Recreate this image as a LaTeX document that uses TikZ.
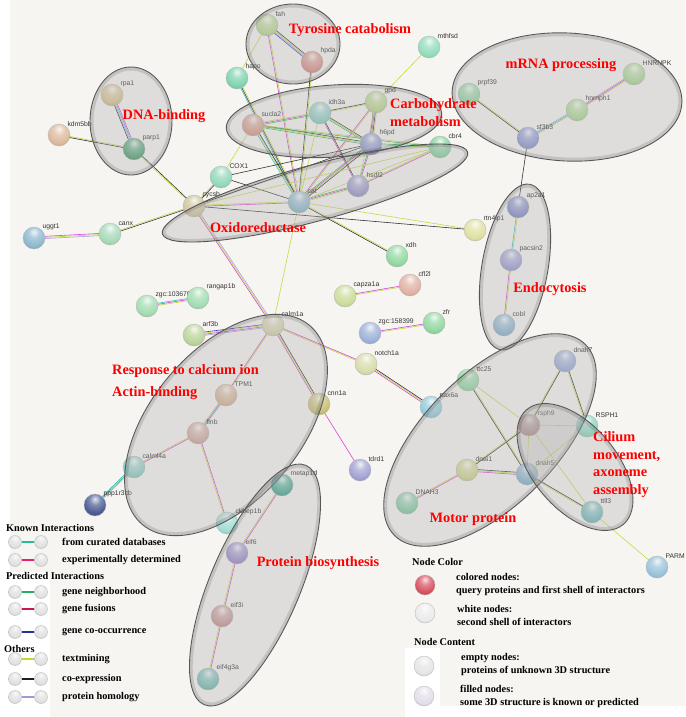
\documentclass[tikz,border=0pt]{standalone}
\usepackage{fontspec}
\setmainfont{Liberation Serif}
\newfontfamily\genefont{Liberation Sans}
\usetikzlibrary{calc}
\pgfdeclarelayer{bg}
\pgfdeclarelayer{links}
\pgfsetlayers{bg,links,main}

% lighter, glossier balls
\makeatletter
\pgfdeclareradialshading[tikz@ball]{ball}{\pgfqpoint{0bp}{14bp}}{%
  color(0bp)=(tikz@ball!15!white);
  color(12bp)=(tikz@ball!70!white);
  color(28bp)=(tikz@ball);
  color(44bp)=(tikz@ball!80!black);
  color(58bp)=(tikz@ball!55!black);
  color(100bp)=(tikz@ball!55!black)}
\makeatother

% interaction colours
\definecolor{paper}{HTML}{F6F5F1}
\definecolor{txtm}{HTML}{C4DA48}
\definecolor{coex}{HTML}{333333}
\definecolor{expt}{HTML}{DC44D4}
\definecolor{cura}{HTML}{34C2C8}
\definecolor{nbhd}{HTML}{30BE62}
\definecolor{cooc}{HTML}{3442B8}
\definecolor{homo}{HTML}{A8A2E0}
\definecolor{fusn}{HTML}{D82050}

\tikzset{
  protein/.style={circle, minimum size=22pt, inner sep=0pt, draw=black!30, line width=0.3pt},
  gene/.style={font=\genefont\fontsize{6.8}{7}\selectfont, text=black!80, inner sep=0.5pt},
  edge/.style={line width=0.6pt},
  cluster/.style={draw=black!65, line width=0.9pt, fill=black!30, fill opacity=0.35},
  rim/.style={draw=black, draw opacity=0.12, line width=3pt},
  term/.style={font=\bfseries\fontsize{14.3}{17.5}\selectfont, text=red, inner sep=0pt},
  legtxt/.style={font=\bfseries\fontsize{10.3}{13}\selectfont, inner sep=0pt, anchor=west, align=left},
  lball/.style={circle, minimum size=13pt, inner sep=0pt, ball color=white!88!black, draw=black!30, line width=0.3pt},
  kball/.style={circle, minimum size=20pt, inner sep=0pt, draw=black!30, line width=0.3pt}
}

% protein: name, position, label, colour
\newcommand{\prot}[4]{%
  \definecolor{c#1}{HTML}{#4}%
  \node[protein, ball color=c#1, label={[gene]45:{#3}}] (#1) at (#2) {};}
% interaction: from, to, list of evidence colours
\newcommand{\intx}[3]{%
  \foreach \c [count=\n] in {#3} {\xdef\nlines{\n}}
  \foreach \c [count=\k] in {#3} {
    \pgfmathsetmacro\off{(\k-(\nlines+1)/2)*1.1}
    \draw[\c, edge] ($(#1)!\off pt!90:(#2)$) -- ($(#2)!\off pt!-90:(#1)$);
  }}
% cluster: centre, x radius, y radius, angle
\newcommand{\clus}[4]{%
  \draw[cluster, rotate around={#4:(#1)}] (#1) ellipse [x radius=#2pt, y radius=#3pt];
  \draw[rim, rotate around={#4:(#1)}] (#1) ellipse [x radius=#2pt-2pt, y radius=#3pt-2pt];}

\begin{document}
\begin{tikzpicture}[x=1pt, y=-1pt]
  \useasboundingbox (0,0) rectangle (685,717);
  \begin{pgfonlayer}{bg}
    \fill[paper] (0,0) rectangle (685,717);
    \fill[white] (0,0) rectangle (10,717);
    \fill[white] (0,572) rectangle (50,717);
    \fill[white] (405,706) rectangle (685,717);
    \fill[white] (405,648) rectangle (440,717);
  \end{pgfonlayer}

  % Proteins
  \prot{fah}{267,25}{fah}{B8D68E}
  \prot{hpda}{312,62}{hpda}{D88C82}
  \prot{hapo}{237,78}{hapo}{7ED4AE}
  \prot{mthfsd}{429,47}{mthfsd}{92DCBC}
  \prot{gpd}{376,102}{gpd}{BAD48C}
  \prot{idh3a}{320,113}{idh3a}{8ECCC4}
  \prot{sucla2}{253,125}{sucla2}{D69A88}
  \prot{h6pd}{371,144}{h6pd}{8C94CC}
  \prot{cbr4}{440,147}{cbr4}{86D29E}
  \prot{hsdl2}{358,186}{hsdl2}{9894C8}
  \prot{cat}{299,202}{cat}{8CB6CA}
  \prot{COX1}{221,177}{COX1}{92D8BA}
  \prot{cycsb}{194,206}{cycsb}{CFC49C}
  \prot{rpa1}{112,95}{rpa1}{D6C08E}
  \prot{kdm5bb}{59,135}{kdm5bb}{DCBA9C}
  \prot{parp1}{134,149}{parp1}{4C9E72}
  \prot{uggt1}{34,238}{uggt1}{8CB8CE}
  \prot{canx}{110,234}{canx}{A6DAB8}
  \prot{zgcA}{147,306}{zgc:103670}{A2DCB2}
  \prot{rangap1b}{198,298}{rangap1b}{A2DCB2}
  \prot{arf3b}{194,335}{arf3b}{BAD49C}
  \prot{calm1a}{273,325}{calm1a}{D6D2AA}
  \prot{TPM1}{226,395}{TPM1}{D8B294}
  \prot{flnb}{198,433}{flnb}{D0A89C}
  \prot{calml4a}{134,467}{calml4a}{8ACCC2}
  \prot{ppp1r3cb}{95,505}{ppp1r3cb}{4C5C92}
  \prot{ckbep1b}{227,523}{ckbep1b}{A0DCD2}
  \prot{metap1d}{282,485}{metap1d}{44A892}
  \prot{eif6}{237,553}{eif6}{9C8ACA}
  \prot{eif3i}{222,616}{eif3i}{C89494}
  \prot{eif4g3a}{208,679}{eif4g3a}{72BAB4}
  \prot{tdrd1}{360,470}{tdrd1}{A2A2D2}
  \prot{cnn1a}{319,404}{cnn1a}{C8C072}
  \prot{notch1a}{366,364}{notch1a}{D8DCAA}
  \prot{pax6a}{431,407}{pax6a}{92CADA}
  \prot{xdh}{397,256}{xdh}{92D8A2}
  \prot{capza1a}{345,296}{capza1a}{CCDC9A}
  \prot{cfl2l}{410,285}{cfl2l}{E0B2A2}
  \prot{zgcB}{370,333}{zgc:158399}{9CB2D8}
  \prot{zfr}{434,323}{zfr}{92D8A2}
  \prot{rtn4ip1}{475,230}{rtn4ip1}{E0E0A2}
  \prot{prpf39}{469,94}{prpf39}{92D2A2}
  \prot{sf3b3}{528,138}{sf3b3}{8A92D2}
  \prot{hnrnph1}{577,110}{hnrnph1}{AAD892}
  \prot{HNRNPK}{634,74}{HNRNPK}{AAD892}
  \prot{ap2a1}{518,207}{ap2a1}{828AC8}
  \prot{pacsin2}{511,260}{pacsin2}{9C9CD8}
  \prot{cobl}{504,325}{cobl}{8AB2CE}
  \prot{dnah7}{565,361}{dnah7}{9AAAD8}
  \prot{ttc25}{468,380}{ttc25}{92D8A2}
  \prot{rsph9}{529,425}{rsph9}{B48484}
  \prot{RSPH1}{587,426}{RSPH1}{8AD8C2}
  \prot{dnai1}{467,470}{dnai1}{D2D28E}
  \prot{dnah5}{527,474}{dnah5}{82B2CA}
  \prot{DNAH3}{407,503}{DNAH3}{82CAA2}
  \prot{ttll3}{592,512}{ttll3}{72BABA}
  \prot{PARM}{657,567}{PARM}{9AC2DA}

  % Interactions
  \begin{pgfonlayer}{links}
    \intx{fah}{hpda}{cooc,homo,txtm,coex}
    \intx{fah}{hapo}{txtm}
    \intx{fah}{cat}{expt,txtm}
    \intx{hpda}{cat}{coex,txtm}
    \intx{hapo}{cat}{cura,coex,txtm}
    \intx{mthfsd}{gpd}{txtm}
    \intx{sucla2}{idh3a}{nbhd,expt,txtm}
    \intx{sucla2}{h6pd}{nbhd,txtm,coex}
    \intx{sucla2}{cbr4}{nbhd,txtm}
    \intx{sucla2}{COX1}{txtm}
    \intx{sucla2}{cat}{cura,txtm,coex}
    \intx{idh3a}{gpd}{txtm,coex}
    \intx{idh3a}{h6pd}{nbhd,txtm,coex}
    \intx{idh3a}{hsdl2}{expt,coex}
    \intx{idh3a}{cat}{txtm}
    \intx{gpd}{h6pd}{cooc,expt,coex,txtm}
    \intx{gpd}{cat}{expt,txtm}
    \intx{gpd}{hsdl2}{txtm}
    \intx{h6pd}{cat}{nbhd,expt,txtm,coex}
    \intx{h6pd}{hsdl2}{nbhd,expt}
    \intx{h6pd}{cbr4}{txtm,nbhd}
    \intx{h6pd}{cycsb}{coex}
    \intx{h6pd}{COX1}{coex}
    \intx{hsdl2}{cat}{nbhd,expt,txtm}
    \intx{hsdl2}{cbr4}{expt,txtm}
    \intx{cat}{cbr4}{txtm}
    \intx{cat}{cycsb}{txtm,expt}
    \intx{cat}{COX1}{coex}
    \intx{cat}{xdh}{coex,txtm}
    \intx{cat}{rtn4ip1}{txtm}
    \intx{cat}{calm1a}{txtm}
    \intx{COX1}{cycsb}{txtm,coex}
    \intx{cycsb}{parp1}{coex,txtm}
    \intx{cycsb}{canx}{txtm,coex}
    \intx{cycsb}{calm1a}{expt,txtm,homo}
    \intx{cycsb}{rtn4ip1}{coex}
    \intx{cycsb}{cbr4}{txtm}
    \intx{parp1}{kdm5bb}{txtm,coex}
    \intx{parp1}{rpa1}{expt,cura,homo,coex}
    \intx{canx}{uggt1}{expt,txtm,homo}
    \intx{zgcA}{rangap1b}{txtm,expt,cura}
    \intx{arf3b}{calm1a}{homo,expt,txtm,cooc}
    \intx{calm1a}{TPM1}{expt,txtm}
    \intx{calm1a}{cnn1a}{expt,txtm,coex}
    \intx{calm1a}{notch1a}{txtm,expt}
    \intx{TPM1}{flnb}{txtm,expt,cura}
    \intx{flnb}{calml4a}{txtm,expt}
    \intx{flnb}{ckbep1b}{txtm,expt}
    \intx{calml4a}{ppp1r3cb}{cura,nbhd,homo}
    \intx{cnn1a}{tdrd1}{expt}
    \intx{notch1a}{pax6a}{expt,txtm,coex}
    \intx{metap1d}{eif6}{txtm,expt}
    \intx{eif6}{eif3i}{txtm,expt}
    \intx{eif3i}{eif4g3a}{txtm,expt}
    \intx{capza1a}{cfl2l}{txtm,expt}
    \intx{zgcB}{zfr}{txtm,expt}
    \intx{prpf39}{sf3b3}{coex,txtm}
    \intx{sf3b3}{hnrnph1}{txtm,cura,homo}
    \intx{hnrnph1}{HNRNPK}{txtm,expt,homo}
    \intx{sf3b3}{ap2a1}{coex}
    \intx{ap2a1}{pacsin2}{cura,txtm}
    \intx{pacsin2}{cobl}{expt,txtm}
    \intx{ttc25}{rsph9}{txtm}
    \intx{ttc25}{dnah5}{coex,txtm}
    \intx{dnah7}{rsph9}{txtm,coex}
    \intx{dnah7}{RSPH1}{txtm,coex}
    \intx{rsph9}{RSPH1}{txtm}
    \intx{rsph9}{dnai1}{txtm,coex}
    \intx{rsph9}{dnah5}{txtm}
    \intx{rsph9}{ttll3}{txtm}
    \intx{RSPH1}{dnah5}{txtm}
    \intx{dnai1}{dnah5}{expt,txtm,coex}
    \intx{dnai1}{DNAH3}{txtm,expt}
    \intx{dnah5}{ttll3}{txtm,coex}
    \intx{ttll3}{PARM}{txtm}
  \end{pgfonlayer}

  % Clusters
  \clus{293,44}{47}{40}{0}
  \clus{131,121}{41}{54}{0}
  \clus{334,121}{108}{36}{4}
  \clus{567,97}{115}{64}{-3}
  \clus{315,193}{158}{28}{15}
  \clus{515,267}{33}{84}{-10}
  \clus{226,425}{130}{75}{50}
  \clus{255,585}{130}{45}{67}
  \clus{490,440}{135}{66}{45}
  \clus{575,467}{75}{42}{-50}

  % Terms
  \node[term] (tyro) at (350,30) {Tyrosine catabolism};
  \node[term] (mrna) at (561,65) {mRNA processing};
  \node[term] (dnab) at (164,116) {DNA-binding};
  \node[term, anchor=west, align=left] (carb) at (390,112.5) {Carbohydrate\\metabolism};
  \node[term] (oxid) at (258,228) {Oxidoreductase};
  \node[term] (endo) at (550,289) {Endocytosis};
  \node[term, anchor=west] (resp) at (112,371) {Response to calcium ion};
  \node[term, anchor=west] (actn) at (112,393) {Actin-binding};
  \node[term, anchor=west, align=left] (cili) at (593,464.5) {Cilium\\movement,\\axoneme\\assembly};
  \node[term] (motr) at (473,519) {Motor protein};
  \node[term] (pbio) at (318,563) {Protein biosynthesis};

  % Legend: interactions
  \node[legtxt] (known) at (6,528) {Known Interactions};
  \node[legtxt] (pred) at (6,576) {Predicted Interactions};
  \node[legtxt] (othr) at (4,649) {Others};
  \foreach \y/\c/\t [count=\i] in {542/20C090/from curated databases, 560/E8206C/experimentally determined,
      592/20B060/gene neighborhood, 609/C81850/gene fusions, 632/2030A0/gene co-occurrence,
      659/B8DC30/textmining, 679/1E1E1E/co-expression, 697/A496D6/protein homology} {
    \definecolor{lc}{HTML}{\c}
    \node[lball] (la\i) at (15,\y) {};
    \node[lball] (lb\i) at (41,\y) {};
    \draw[lc, line width=1.6pt] (la\i) -- (lb\i);
    \node[legtxt] (lt\i) at (62,\y) {\t};
  }

  % Legend: nodes
  \node[legtxt] (ncol) at (412,562) {Node Color};
  \node[kball, ball color={rgb,255:red,215;green,80;blue,95}] (colb) at (425,585) {};
  \node[legtxt] (colt) at (456,584.5) {colored nodes:\\query proteins and first shell of interactors};
  \node[kball, ball color=white!92!black] (whtb) at (425,613) {};
  \node[legtxt] (whtt) at (457,615.5) {white nodes:\\second shell of interactors};
  \node[legtxt] (ncon) at (414,642) {Node Content};
  \node[kball, ball color=white!90!black] (empb) at (424,666) {};
  \node[legtxt] (empt) at (461,664.5) {empty nodes:\\proteins of unknown 3D structure};
  \node[kball, ball color={rgb,255:red,226;green,222;blue,234}] (filb) at (424,696) {};
  \node[legtxt] (filt) at (460,696.5) {filled nodes:\\some 3D structure is known or predicted};
\end{tikzpicture}
\end{document}
